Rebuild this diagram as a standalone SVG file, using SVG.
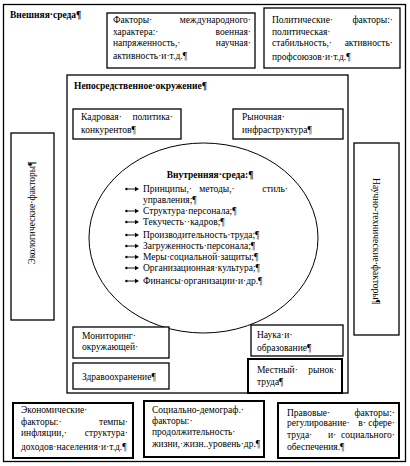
<svg xmlns="http://www.w3.org/2000/svg" xmlns:xlink="http://www.w3.org/1999/xlink" width="410" height="466" viewBox="0 0 410 466">
<style>
.bx{fill:#fff;stroke:#000;stroke-width:1.3}
.bt{fill:#fff;stroke:#000;stroke-width:2}
.t{font-family:"Liberation Serif","Times New Roman",serif;font-size:9.5px;fill:#000}
.h{font-weight:bold}
.e{text-anchor:end}
.m{text-anchor:middle}
</style>
<defs>
<g id="bul"><circle cx="1.5" cy="0" r="1.3" fill="#000"/><line x1="3" y1="0" x2="11" y2="0" stroke="#000" stroke-width="0.9"/><path d="M10,-2.2 L14,0 L10,2.2z" fill="#000"/></g>
</defs>
<rect width="410" height="466" fill="#fff"/>
<g id="outer">
<rect class="bx" x="3.5" y="4.5" width="402" height="457"/>
<text class="t h" x="10" y="18">Внешняя·среда¶</text>
</g>
<g id="intl">
<rect class="bx" x="107" y="13" width="148" height="55"/>
<text class="t" x="113" y="23">Факторы·</text><text class="t e" x="251" y="23">международного·</text>
<text class="t" x="113" y="35">характера:·</text><text class="t e" x="251" y="35">военная·</text>
<text class="t" x="113" y="46">напряженность,·</text><text class="t e" x="251" y="46">научная·</text>
<text class="t" x="113" y="59">активность·и·т.д.¶</text>
</g>
<g id="polit">
<rect class="bx" x="264" y="8" width="136" height="60"/>
<text class="t" x="272" y="23">Политические·</text><text class="t e" x="393" y="23">факторы:·</text>
<text class="t" x="272" y="35">политическая·</text>
<text class="t" x="272" y="46">стабильность,·</text><text class="t e" x="393" y="46">активность·</text>
<text class="t" x="272" y="60">профсоюзов·и·т.д.¶</text>
</g>
<g id="eco">
<rect class="bx" x="11" y="133" width="43" height="187"/>
<text class="t m" transform="translate(35,213) rotate(-90)">Экологические·факторы¶</text>
</g>
<g id="scitech">
<rect class="bx" x="354" y="143" width="45" height="192"/>
<text class="t m" transform="translate(373,241) rotate(90)">Научно-технические·факторы¶</text>
</g>
<g id="near">
<rect class="bx" x="67" y="75" width="281" height="318"/>
<text class="t h" x="74" y="89">Непосредственное·окружение¶</text>
</g>
<g id="kadr">
<rect class="bx" x="73" y="109" width="108" height="30"/>
<text class="t" x="81" y="120">Кадровая·</text><text class="t e" x="173" y="120">политика·</text>
<text class="t" x="81" y="133">конкурентов¶</text>
</g>
<g id="market">
<rect class="bx" x="233" y="109" width="110" height="30"/>
<text class="t" x="242" y="120">Рыночная·</text>
<text class="t" x="242" y="133">инфраструктура¶</text>
</g>
<g id="inner">
<ellipse cx="203.5" cy="238" rx="114.5" ry="95" fill="#fff" stroke="#000" stroke-width="1"/>
<text class="t h m" x="210" y="178">Внутренняя·среда:¶</text>
<use xlink:href="#bul" x="125" y="189"/><text class="t" x="143" y="192">Принципы,·</text><text class="t m" x="217" y="192">методы,·</text><text class="t e" x="288" y="192">стиль·</text>
<text class="t" x="143" y="203">управления;¶</text>
<use xlink:href="#bul" x="125" y="211"/><text class="t" x="143" y="214">Структура·персонала;¶</text>
<use xlink:href="#bul" x="125" y="222"/><text class="t" x="143" y="225">Текучесть··кадров;¶</text>
<use xlink:href="#bul" x="125" y="235"/><text class="t" x="143" y="238">Производительность·труда;¶</text>
<use xlink:href="#bul" x="125" y="246"/><text class="t" x="143" y="249">Загруженность·персонала;¶</text>
<use xlink:href="#bul" x="125" y="257"/><text class="t" x="143" y="260">Меры·социальной·защиты;¶</text>
<use xlink:href="#bul" x="125" y="268"/><text class="t" x="143" y="271">Организационная·культура;¶</text>
<use xlink:href="#bul" x="125" y="281"/><text class="t" x="143" y="284">Финансы·организации·и·др.¶</text>
</g>
<g id="monitor">
<rect class="bx" x="73" y="327" width="96" height="31"/>
<text class="t" x="82" y="339">Мониторинг·</text>
<text class="t" x="82" y="350">окружающей·</text>
</g>
<g id="health">
<rect class="bx" x="73" y="363" width="96" height="26"/>
<text class="t" x="82" y="380">Здравоохранение¶</text>
</g>
<g id="science">
<rect class="bx" x="251" y="325" width="92" height="31"/>
<text class="t" x="257" y="338">Наука·и·</text>
<text class="t" x="257" y="351">образование¶</text>
</g>
<g id="labor">
<rect class="bt" x="248" y="359" width="94" height="34"/>
<text class="t" x="257" y="373">Местный·</text><text class="t e" x="337" y="373">рынок·</text>
<text class="t" x="257" y="385">труда¶</text>
</g>
<g id="econ">
<rect class="bt" x="13" y="403" width="120" height="55"/>
<text class="t" x="21" y="413">Экономические·</text>
<text class="t" x="21" y="425">факторы:·</text><text class="t e" x="128" y="425">темпы·</text>
<text class="t" x="21" y="436">инфляции,·</text><text class="t e" x="128" y="436">структура·</text>
<text class="t" x="21" y="450">доходов·населения·и·т.д.¶</text>
</g>
<g id="social">
<rect class="bt" x="144" y="401" width="120" height="56"/>
<text class="t" x="152" y="413">Социально-демограф.·</text>
<text class="t" x="152" y="424">факторы:·</text>
<text class="t" x="152" y="435">продолжительность·</text>
<text class="t" x="152" y="447">жизни,·жизн..уровень·др.¶</text>
</g>
<g id="legal">
<rect class="bt" x="278" y="403" width="121" height="55"/>
<text class="t" x="287" y="416">Правовые·</text><text class="t e" x="395" y="416">факторы:·</text>
<text class="t" x="287" y="426">регулирование·</text><text class="t m" x="362" y="426">в·</text><text class="t e" x="395" y="426">сфере·</text>
<text class="t" x="287" y="438">труда·</text><text class="t m" x="332" y="438">и·</text><text class="t e" x="395" y="438">социального·</text>
<text class="t" x="287" y="450">обеспечения.¶</text>
</g>
<g id="connectors"></g>
</svg>
